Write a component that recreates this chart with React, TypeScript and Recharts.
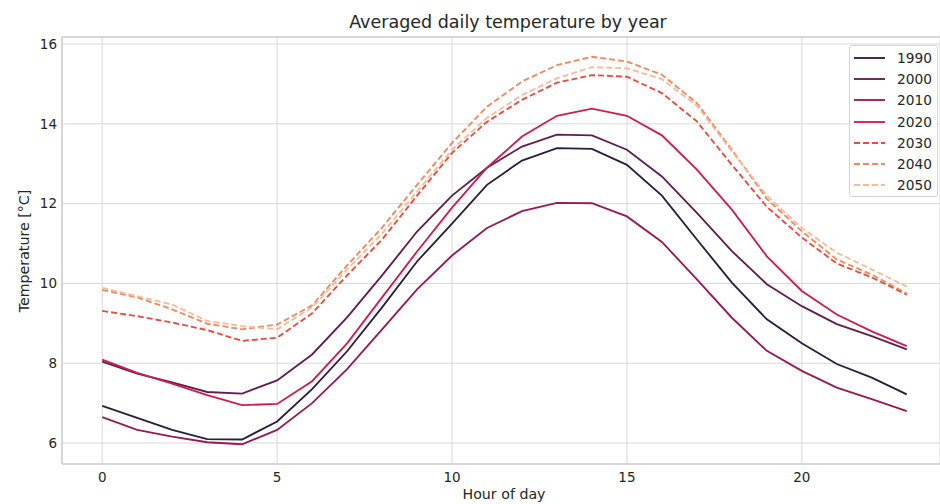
import { LineChart, Line, XAxis, YAxis, CartesianGrid, ReferenceLine, Label } from 'recharts';

const hours = [0, 1, 2, 3, 4, 5, 6, 7, 8, 9, 10, 11, 12, 13, 14, 15, 16, 17, 18, 19, 20, 21, 22, 23];

const t1990 = [6.93, 6.63, 6.33, 6.1, 6.09, 6.54, 7.35, 8.3, 9.4, 10.55, 11.5, 12.47, 13.08, 13.39, 13.37, 12.97, 12.2, 11.1, 10.02, 9.1, 8.5, 7.98, 7.64, 7.22];
const t2000 = [8.04, 7.74, 7.52, 7.28, 7.24, 7.57, 8.22, 9.15, 10.2, 11.3, 12.2, 12.9, 13.43, 13.73, 13.71, 13.35, 12.68, 11.77, 10.81, 9.98, 9.43, 8.98, 8.68, 8.35];
const t2010 = [6.65, 6.33, 6.16, 6.02, 5.97, 6.33, 7.0, 7.85, 8.85, 9.85, 10.7, 11.39, 11.81, 12.02, 12.01, 11.68, 11.04, 10.1, 9.14, 8.31, 7.81, 7.39, 7.1, 6.8];
const t2020 = [8.09, 7.76, 7.49, 7.2, 6.95, 6.98, 7.55, 8.5, 9.65, 10.8, 11.9, 12.9, 13.68, 14.2, 14.38, 14.2, 13.71, 12.85, 11.85, 10.68, 9.81, 9.22, 8.8, 8.43];
const t2030 = [9.31, 9.18, 9.02, 8.83, 8.56, 8.64, 9.25, 10.2, 11.1, 12.2, 13.27, 14.05, 14.6, 15.03, 15.22, 15.18, 14.77, 14.06, 12.97, 11.92, 11.15, 10.5, 10.15, 9.72];
const t2040 = [9.84, 9.65, 9.35, 8.99, 8.85, 8.97, 9.45, 10.45, 11.4, 12.47, 13.52, 14.43, 15.06, 15.47, 15.68, 15.56, 15.23, 14.52, 13.35, 12.12, 11.31, 10.6, 10.22, 9.75];
const t2050 = [9.89, 9.68, 9.47, 9.06, 8.93, 8.85, 9.4, 10.35, 11.25, 12.3, 13.35, 14.15, 14.72, 15.14, 15.42, 15.39, 15.12, 14.45, 13.31, 12.2, 11.39, 10.77, 10.35, 9.92];

const xTicks = [0, 5, 10, 15, 20];
const yTicks = [6, 8, 10, 12, 14, 16];

const series = [
  { key: 'y1990', name: '1990', values: t1990, color: '#2e1c3c', dash: undefined },
  { key: 'y2000', name: '2000', values: t2000, color: '#611d51', dash: undefined },
  { key: 'y2010', name: '2010', values: t2010, color: '#961a58', dash: undefined },
  { key: 'y2020', name: '2020', values: t2020, color: '#cc1d4e', dash: undefined },
  { key: 'y2030', name: '2030', values: t2030, color: '#ea4a40', dash: '6 3' },
  { key: 'y2040', name: '2040', values: t2040, color: '#f4875e', dash: '6 3' },
  { key: 'y2050', name: '2050', values: t2050, color: '#f6bc99', dash: '6 3' },
];

const data = hours.map((hour, i) => {
  const row: Record<string, number> = { hour };
  series.forEach((s) => {
    row[s.key] = s.values[i];
  });
  return row;
});

const FONT = 'DejaVu Sans, sans-serif';
const TEXT = '#262626';
const SPINE = '#d0d0d0';
const Y_MIN = 5.475;
const Y_MAX = 16.175;

// legend drawn as an overlay so it doesn't eat into the plot area
function LegendBox() {
  return (
    <div
      style={{
        position: 'absolute',
        left: 849,
        top: 45,
        width: 89,
        height: 152,
        boxSizing: 'border-box',
        border: '1px solid #d4d4d4',
        borderRadius: 3,
        background: 'rgba(255,255,255,0.85)',
        paddingTop: 1,
        fontFamily: FONT,
        fontSize: 13.75,
        color: TEXT,
      }}
    >
      {series.map((s) => (
        <div key={s.key} style={{ display: 'flex', alignItems: 'center', height: 21.3 }}>
          <svg width={47} height={10} style={{ flex: 'none' }}>
            <line x1={4} x2={35} y1={5} y2={5} stroke={s.color} strokeWidth={1.85} strokeDasharray={s.dash} />
          </svg>
          <span>{s.name}</span>
        </div>
      ))}
    </div>
  );
}

export default function App() {
  return (
    <div style={{ position: 'absolute', left: 0, top: 0, width: 940, height: 504, background: '#fff' }}>
      <div
        style={{
          position: 'absolute',
          left: 0,
          width: 1016,
          top: 11,
          textAlign: 'center',
          fontFamily: FONT,
          fontSize: 17.5,
          color: TEXT,
          lineHeight: '22px',
        }}
      >
        Averaged daily temperature by year
      </div>
      <LineChart width={940} height={504} data={data} margin={{ top: 37, right: 0, bottom: 0, left: 0 }}>
        <CartesianGrid stroke="#d8d8d8" strokeWidth={1} />
        <XAxis
          dataKey="hour"
          type="number"
          domain={[-1.15, 23.95]}
          ticks={xTicks}
          allowDataOverflow
          height={40}
          axisLine={{ stroke: SPINE, strokeWidth: 1.5 }}
          tickLine={false}
          tickSize={6}
          tickMargin={2}
          tick={{ fill: TEXT, fontSize: 13.5, fontFamily: FONT }}
        >
          <Label
            content={() => (
              <text x={504} y={495} textAnchor="middle" dominantBaseline="middle" fill={TEXT} fontSize={14.2} fontFamily={FONT}>
                Hour of day
              </text>
            )}
          />
        </XAxis>
        <YAxis
          type="number"
          domain={[Y_MIN, Y_MAX]}
          ticks={yTicks}
          allowDataOverflow
          width={62}
          axisLine={{ stroke: SPINE, strokeWidth: 1.5 }}
          tickLine={false}
          tickSize={3}
          tickMargin={2}
          tick={{ fill: TEXT, fontSize: 13.5, fontFamily: FONT }}
        >
          <Label
            content={() => (
              <text
                x={25}
                y={251}
                transform="rotate(-90 25 251)"
                textAnchor="middle"
                dominantBaseline="middle"
                fill={TEXT}
                fontSize={14.2}
                fontFamily={FONT}
              >
                Temperature [°C]
              </text>
            )}
          />
        </YAxis>
        <ReferenceLine y={Y_MAX} stroke={SPINE} strokeWidth={1.5} />
        {series.map((s) => (
          <Line
            key={s.key}
            dataKey={s.key}
            name={s.name}
            stroke={s.color}
            strokeWidth={1.85}
            strokeDasharray={s.dash}
            dot={false}
            activeDot={false}
            isAnimationActive={false}
          />
        ))}
      </LineChart>
      <LegendBox />
    </div>
  );
}
